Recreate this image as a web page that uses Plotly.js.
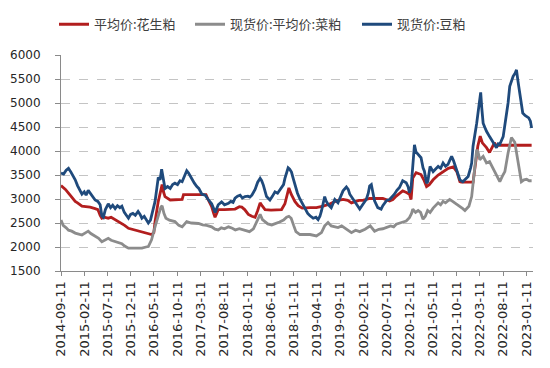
<!DOCTYPE html>
<html>
<head>
<meta charset="utf-8">
<script src="https://cdn.plot.ly/plotly-3.0.1.min.js"></script>
<style>html,body{margin:0;padding:0;background:#fff;}#chart{width:550px;height:368px;}</style>
</head>
<body>
<div id="chart"></div>
<script>
const seriesNames = ["平均价:花生粕", "现货价:平均价:菜粕", "现货价:豆粕"];

const peanutDates = ["2014-09-11","2014-09-25","2014-10-10","2014-10-30","2014-11-15","2014-12-01","2014-12-13","2014-12-28","2015-01-15","2015-01-26","2015-02-20","2015-03-20","2015-04-22","2015-05-10","2015-05-25","2015-06-05","2015-06-20","2015-07-17","2015-08-05","2015-08-31","2015-09-20","2015-10-14","2015-11-01","2015-11-26","2015-12-20","2016-01-20","2016-02-22","2016-03-20","2016-04-25","2016-05-10","2016-05-18","2016-06-08","2016-06-20","2016-07-03","2016-07-12","2016-07-22","2016-08-25","2016-10-10","2016-11-11","2016-11-20","2017-04-16","2017-04-28","2017-05-23","2017-06-05","2017-06-14","2017-06-25","2017-07-05","2017-08-15","2017-10-23","2017-11-20","2017-12-06","2017-12-25","2018-01-18","2018-02-10","2018-03-03","2018-03-20","2018-04-05","2018-04-20","2018-05-07","2018-06-15","2018-08-23","2018-09-14","2018-09-28","2018-10-10","2018-10-25","2018-11-18","2018-12-10","2019-01-05","2019-02-25","2019-04-08","2019-05-22","2019-06-30","2019-08-16","2019-09-29","2019-10-30","2019-11-23","2020-01-11","2020-02-06","2020-03-21","2020-06-15","2020-07-29","2020-08-20","2020-09-11","2020-10-23","2020-11-20","2020-12-06","2020-12-17","2020-12-28","2021-01-19","2021-02-20","2021-03-10","2021-03-28","2021-04-15","2021-05-10","2021-06-12","2021-07-14","2021-08-17","2021-09-19","2021-10-12","2021-11-01","2021-11-10","2022-01-26","2022-02-05","2022-02-26","2022-03-14","2022-03-28","2022-04-24","2022-05-14","2022-05-25","2022-06-15","2022-06-25","2023-02-13"];
const peanutValues = [3280,3240,3200,3120,3060,3000,2950,2920,2880,2850,2840,2830,2800,2780,2660,2600,2620,2600,2620,2570,2540,2490,2450,2390,2370,2340,2320,2290,2260,2300,2530,2950,3150,3300,3150,3050,2980,2980,2990,3090,3090,3000,2840,2700,2620,2700,2780,2780,2790,2840,2830,2780,2680,2640,2620,2760,2920,2850,2780,2770,2780,2900,3050,3230,3100,2950,2860,2810,2820,2820,2850,2890,2960,2990,2970,2920,2970,2970,3010,3010,2960,2990,3060,3170,3130,3100,2990,3440,3550,3510,3400,3260,3300,3400,3500,3570,3640,3670,3570,3360,3350,3350,3600,4100,4310,4170,4070,3970,4040,4170,4120,4120];

const rapeDates = ["2014-09-11","2014-09-25","2014-10-15","2014-10-30","2014-11-20","2014-12-13","2015-01-05","2015-01-26","2015-02-20","2015-03-08","2015-03-25","2015-04-22","2015-05-15","2015-06-05","2015-06-25","2015-07-17","2015-08-05","2015-08-31","2015-09-20","2015-10-14","2015-11-01","2015-11-26","2015-12-20","2016-01-20","2016-02-22","2016-03-20","2016-04-04","2016-04-25","2016-05-10","2016-05-25","2016-06-08","2016-06-25","2016-07-03","2016-07-15","2016-07-28","2016-08-20","2016-09-25","2016-10-20","2016-11-11","2016-11-28","2016-12-11","2017-01-10","2017-02-26","2017-03-25","2017-04-20","2017-05-23","2017-06-14","2017-07-05","2017-07-25","2017-08-15","2017-09-10","2017-10-05","2017-10-25","2017-11-20","2017-12-10","2018-01-05","2018-01-25","2018-02-20","2018-03-03","2018-03-20","2018-04-05","2018-04-20","2018-05-07","2018-05-25","2018-06-20","2018-07-11","2018-08-10","2018-09-05","2018-09-25","2018-10-10","2018-10-25","2018-11-10","2018-11-25","2018-12-21","2019-01-20","2019-02-25","2019-04-08","2019-05-11","2019-06-01","2019-06-23","2019-07-14","2019-08-10","2019-08-27","2019-09-20","2019-10-21","2019-11-23","2019-12-20","2020-01-16","2020-02-20","2020-03-08","2020-03-25","2020-04-22","2020-05-20","2020-06-15","2020-07-09","2020-08-05","2020-08-25","2020-09-11","2020-10-15","2020-11-15","2020-12-06","2020-12-20","2020-12-28","2021-01-15","2021-02-01","2021-02-17","2021-03-05","2021-03-20","2021-04-04","2021-04-20","2021-05-10","2021-05-25","2021-06-12","2021-06-28","2021-07-14","2021-07-30","2021-08-26","2021-09-10","2021-09-29","2021-10-15","2021-11-01","2021-11-20","2021-12-04","2021-12-30","2022-01-17","2022-02-02","2022-02-19","2022-03-01","2022-03-11","2022-04-02","2022-04-24","2022-05-14","2022-06-05","2022-06-28","2022-07-20","2022-08-05","2022-08-22","2022-09-12","2022-10-04","2022-10-26","2022-11-16","2022-12-08","2022-12-25","2023-01-11","2023-01-28","2023-02-13"];
const rapeValues = [2560,2450,2400,2350,2330,2290,2270,2250,2300,2330,2280,2220,2180,2110,2140,2180,2140,2110,2090,2070,2020,1975,1975,1980,1975,2000,2010,2150,2300,2500,2650,2830,2860,2700,2600,2560,2530,2450,2420,2480,2530,2500,2490,2460,2450,2420,2370,2355,2400,2380,2420,2390,2355,2380,2360,2330,2320,2380,2460,2600,2680,2570,2530,2480,2460,2480,2520,2560,2620,2640,2600,2450,2320,2260,2260,2260,2230,2300,2440,2510,2440,2420,2405,2440,2370,2300,2350,2320,2370,2410,2440,2330,2370,2380,2410,2440,2420,2475,2510,2540,2610,2700,2790,2720,2760,2720,2580,2640,2760,2720,2810,2860,2920,2880,2950,2920,2990,2960,2920,2880,2850,2800,2760,2850,3050,3600,4030,3960,3820,3890,3750,3780,3640,3470,3360,3470,3570,3960,4280,4180,3820,3360,3400,3410,3380,3380];

const soyDates = ["2014-09-11","2014-09-28","2014-10-15","2014-10-30","2014-11-15","2014-12-01","2014-12-13","2014-12-28","2015-01-12","2015-01-26","2015-02-10","2015-02-22","2015-03-08","2015-03-22","2015-04-08","2015-04-22","2015-05-10","2015-05-25","2015-06-05","2015-06-15","2015-06-28","2015-07-17","2015-08-01","2015-08-15","2015-08-31","2015-09-15","2015-10-01","2015-10-14","2015-10-30","2015-11-12","2015-11-26","2015-12-10","2015-12-25","2016-01-10","2016-01-28","2016-02-10","2016-02-22","2016-03-08","2016-03-22","2016-04-04","2016-04-18","2016-05-05","2016-05-18","2016-06-08","2016-06-20","2016-06-30","2016-07-10","2016-07-22","2016-08-08","2016-08-25","2016-09-10","2016-09-25","2016-10-12","2016-10-28","2016-11-11","2016-11-25","2016-12-11","2016-12-23","2017-01-14","2017-01-30","2017-02-15","2017-02-28","2017-03-20","2017-04-11","2017-04-28","2017-05-23","2017-06-05","2017-06-15","2017-06-25","2017-07-05","2017-07-27","2017-08-15","2017-09-10","2017-09-25","2017-10-10","2017-10-23","2017-11-08","2017-11-25","2017-12-10","2017-12-27","2018-01-15","2018-01-28","2018-02-10","2018-03-03","2018-03-20","2018-04-05","2018-04-15","2018-04-26","2018-05-17","2018-06-08","2018-06-25","2018-07-11","2018-07-28","2018-08-10","2018-08-23","2018-09-05","2018-09-14","2018-09-25","2018-10-05","2018-10-15","2018-10-27","2018-11-08","2018-11-18","2018-12-05","2018-12-21","2019-01-08","2019-01-23","2019-02-10","2019-02-25","2019-03-18","2019-04-05","2019-04-19","2019-05-01","2019-05-11","2019-06-01","2019-06-10","2019-06-23","2019-07-14","2019-07-25","2019-08-06","2019-08-27","2019-09-10","2019-09-29","2019-10-21","2019-11-02","2019-11-12","2019-11-28","2019-12-14","2019-12-30","2020-01-16","2020-02-06","2020-02-28","2020-03-12","2020-03-21","2020-04-01","2020-04-10","2020-04-22","2020-05-13","2020-06-04","2020-06-15","2020-06-26","2020-07-10","2020-07-29","2020-08-15","2020-08-30","2020-09-15","2020-10-02","2020-10-23","2020-11-15","2020-11-28","2020-12-06","2020-12-17","2020-12-28","2021-01-08","2021-01-18","2021-01-30","2021-02-20","2021-03-05","2021-03-14","2021-03-28","2021-04-05","2021-04-20","2021-05-10","2021-05-25","2021-06-12","2021-06-28","2021-07-14","2021-07-30","2021-08-15","2021-08-26","2021-09-08","2021-09-20","2021-10-05","2021-10-20","2021-11-01","2021-11-20","2021-12-05","2021-12-25","2022-01-10","2022-01-17","2022-01-26","2022-02-08","2022-02-19","2022-03-05","2022-03-17","2022-03-24","2022-04-02","2022-04-12","2022-04-24","2022-05-14","2022-06-05","2022-06-28","2022-07-10","2022-07-20","2022-08-11","2022-09-01","2022-09-12","2022-09-23","2022-10-15","2022-10-28","2022-11-06","2022-11-16","2022-11-27","2022-12-17","2023-01-01","2023-01-11","2023-01-25","2023-02-05","2023-02-13"];
const soyValues = [3540,3520,3600,3640,3560,3480,3400,3280,3200,3100,3150,3080,3180,3120,3060,2980,2950,2880,2650,2620,2780,2900,2820,2870,2800,2860,2820,2850,2720,2650,2600,2680,2700,2660,2740,2680,2600,2640,2580,2500,2560,2750,2950,3450,3400,3620,3450,3220,3260,3220,3300,3330,3300,3380,3360,3480,3590,3540,3400,3330,3260,3220,3100,3080,3000,2900,2800,2720,2800,2880,2940,2880,2910,2950,2930,3020,3060,3080,3020,3050,3060,3040,3080,3200,3350,3430,3380,3290,3050,2980,3060,3150,3120,3180,3220,3300,3430,3560,3650,3620,3560,3420,3290,3120,3000,2900,2800,2700,2650,2600,2620,2570,2640,2750,3050,2960,2890,2820,2900,2990,2920,3020,3170,3250,3200,3100,3020,2960,2860,2790,2890,2990,3120,3270,3300,3150,2960,2820,2790,2860,2920,2970,2990,3050,3100,3180,3240,3380,3340,3250,3130,3240,3700,4130,3980,3930,3860,3650,3580,3330,3360,3680,3570,3620,3680,3640,3750,3680,3720,3800,3890,3800,3650,3500,3400,3360,3400,3470,3650,3750,4100,4350,4580,4930,5220,4900,4580,4500,4410,4300,4200,4070,4150,4140,4300,4720,5000,5350,5555,5620,5690,5450,5210,4790,4740,4720,4690,4620,4480];

const tickDates = ["2014-09-11","2015-02-11","2015-07-11","2015-12-11","2016-05-11","2016-10-11","2017-03-11","2017-08-11","2018-01-11","2018-06-11","2018-11-11","2019-04-11","2019-09-11","2020-02-11","2020-07-11","2020-12-11","2021-05-11","2021-10-11","2022-03-11","2022-08-11","2023-01-11"];
const yTicks = [1500,2000,2500,3000,3500,4000,4500,5000,5500,6000];

const colors = ["#B21E1E", "#8C8C8C", "#1F4A7C"];

const traces = [
  {x: peanutDates, y: peanutValues, name: seriesNames[0], type: "scatter", mode: "lines", line: {color: colors[0], width: 2.8}, legend: "legend"},
  {x: rapeDates, y: rapeValues, name: seriesNames[1], type: "scatter", mode: "lines", line: {color: colors[1], width: 2.8}, legend: "legend2"},
  {x: soyDates, y: soyValues, name: seriesNames[2], type: "scatter", mode: "lines", line: {color: colors[2], width: 2.8}, legend: "legend3"}
];

function legendAt(px) {
  return {
    orientation: "h", xref: "container", yref: "container",
    x: px / 550, xanchor: "left", y: 0.934, yanchor: "middle",
    font: {family: "Noto Sans CJK SC, sans-serif", size: 13, color: "#404040"},
    bgcolor: "rgba(0,0,0,0)"
  };
}

const layout = {
  width: 550, height: 368,
  margin: {l: 61, r: 17, t: 55, b: 97},
  paper_bgcolor: "#ffffff", plot_bgcolor: "#ffffff",
  showlegend: true,
  legend: legendAt(54),
  legend2: legendAt(190),
  legend3: legendAt(357),
  xaxis: {
    type: "date",
    range: ["2014-09-11", "2023-02-22"],
    tickmode: "array", tickvals: tickDates, ticktext: tickDates,
    tickangle: -90,
    tickfont: {family: "DejaVu Sans, sans-serif", size: 13, color: "#262626"},
    showgrid: false, zeroline: false,
    showline: true, linecolor: "#8a8a8a", linewidth: 1,
    ticks: "outside", ticklen: 4, tickcolor: "#8a8a8a"
  },
  yaxis: {
    range: [1500, 6000],
    tickmode: "array", tickvals: yTicks,
    tickfont: {family: "DejaVu Sans, sans-serif", size: 12, color: "#262626"},
    showgrid: true, gridcolor: "#c4c4c4", griddash: "dash", gridwidth: 1,
    zeroline: false,
    showline: true, linecolor: "#8a8a8a", linewidth: 1,
    ticks: "outside", ticklen: 5, tickcolor: "#8a8a8a",
    ticklabelstandoff: 12
  }
};

Plotly.newPlot("chart", traces, layout, {staticPlot: true, displayModeBar: false});
</script>
</body>
</html>
